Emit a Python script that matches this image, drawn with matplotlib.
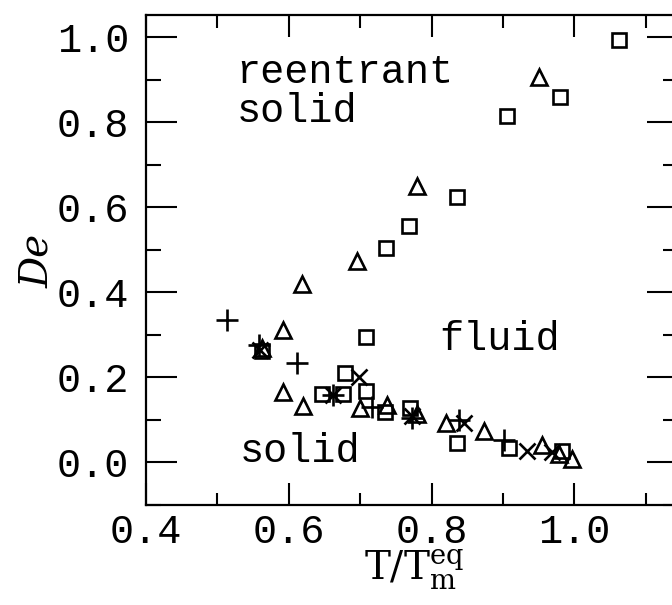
import numpy as np
import matplotlib
matplotlib.use('Agg')
import matplotlib.pyplot as plt
from matplotlib.ticker import MultipleLocator

# data
sq_x = [0.562, 0.646, 0.676, 0.678, 0.708, 0.708, 0.734, 0.769, 0.836, 0.909,
        0.983, 0.736, 0.768, 0.836, 0.905, 0.980, 1.062]
sq_y = [0.262, 0.162, 0.160, 0.210, 0.169, 0.294, 0.118, 0.127, 0.045, 0.033,
        0.028, 0.504, 0.555, 0.624, 0.814, 0.859, 0.993]

tri_x = [0.563, 0.592, 0.592, 0.620, 0.618, 0.695, 0.699, 0.738, 0.780, 0.779,
         0.820, 0.874, 0.954, 0.979, 0.996, 0.950]
tri_y = [0.270, 0.311, 0.165, 0.132, 0.420, 0.473, 0.127, 0.134, 0.113, 0.649,
         0.092, 0.075, 0.040, 0.020, 0.009, 0.906]

plus_x = [0.513, 0.558, 0.611, 0.662, 0.716, 0.772, 0.839, 0.902]
plus_y = [0.336, 0.275, 0.233, 0.158, 0.130, 0.105, 0.099, 0.052]

cross_x = [0.560, 0.662, 0.698, 0.772, 0.846, 0.933, 0.968]
cross_y = [0.265, 0.158, 0.200, 0.110, 0.092, 0.028, 0.024]

xticks = [0.4, 0.6, 0.8, 1.0]
yticks = [0.0, 0.2, 0.4, 0.6, 0.8, 1.0]

plt.rcParams['font.family'] = ['Liberation Mono', 'DejaVu Serif']
plt.rcParams['mathtext.fontset'] = 'dejavuserif'

fig = plt.figure(figsize=(6.72, 6.05), dpi=100)
ax = fig.add_axes([146/672, 1 - 505/605, (678 - 146)/672, (505 - 15)/605])

mk = dict(color='black', linestyle='none', markerfacecolor='none', markeredgewidth=1.9)
ax.plot(sq_x, sq_y, marker='s', markersize=9.5, **mk)
ax.plot(tri_x, tri_y, marker='^', markersize=11, **mk)
ax.plot(plus_x, plus_y, marker='+', markersize=16, **mk)
ax.plot(cross_x, cross_y, marker='x', markersize=11, **mk)

ax.set_xlim(0.4, 1.145)
ax.set_ylim(-0.1, 1.052)
ax.set_xticks(xticks)
ax.set_yticks(yticks)
ax.set_xticklabels(['%.1f' % v for v in xticks])
ax.set_yticklabels(['%.1f' % v for v in yticks])
ax.xaxis.set_minor_locator(MultipleLocator(0.1))
ax.yaxis.set_minor_locator(MultipleLocator(0.1))

ax.tick_params(which='both', direction='in', top=True, right=True,
               width=1.5, labelsize=29, color='black')
ax.tick_params(axis='y', which='major', length=22, pad=12)
ax.tick_params(axis='y', which='minor', length=11)
ax.tick_params(axis='x', which='major', length=16, pad=6)
ax.tick_params(axis='x', which='minor', length=9)
for s in ax.spines.values():
    s.set_linewidth(1.6)

ax.text(0.527, 0.893, 'reentrant', fontsize=29, ha='left', va='baseline')
ax.text(0.527, 0.800, 'solid', fontsize=29, ha='left', va='baseline')
ax.text(0.811, 0.265, 'fluid', fontsize=29, ha='left', va='baseline')
ax.text(0.531, 0.000, 'solid', fontsize=29, ha='left', va='baseline')

fig.text(38/672, 1 - 261/605, 'De', fontsize=28, family='DejaVu Serif',
         style='italic', rotation=90, ha='center', va='center')
fig.text(414/672, 1 - 570/605, r'$\mathrm{T/T_m^{eq}}$', fontsize=28,
         ha='center', va='center')

fig.savefig('out.png', dpi=100)
